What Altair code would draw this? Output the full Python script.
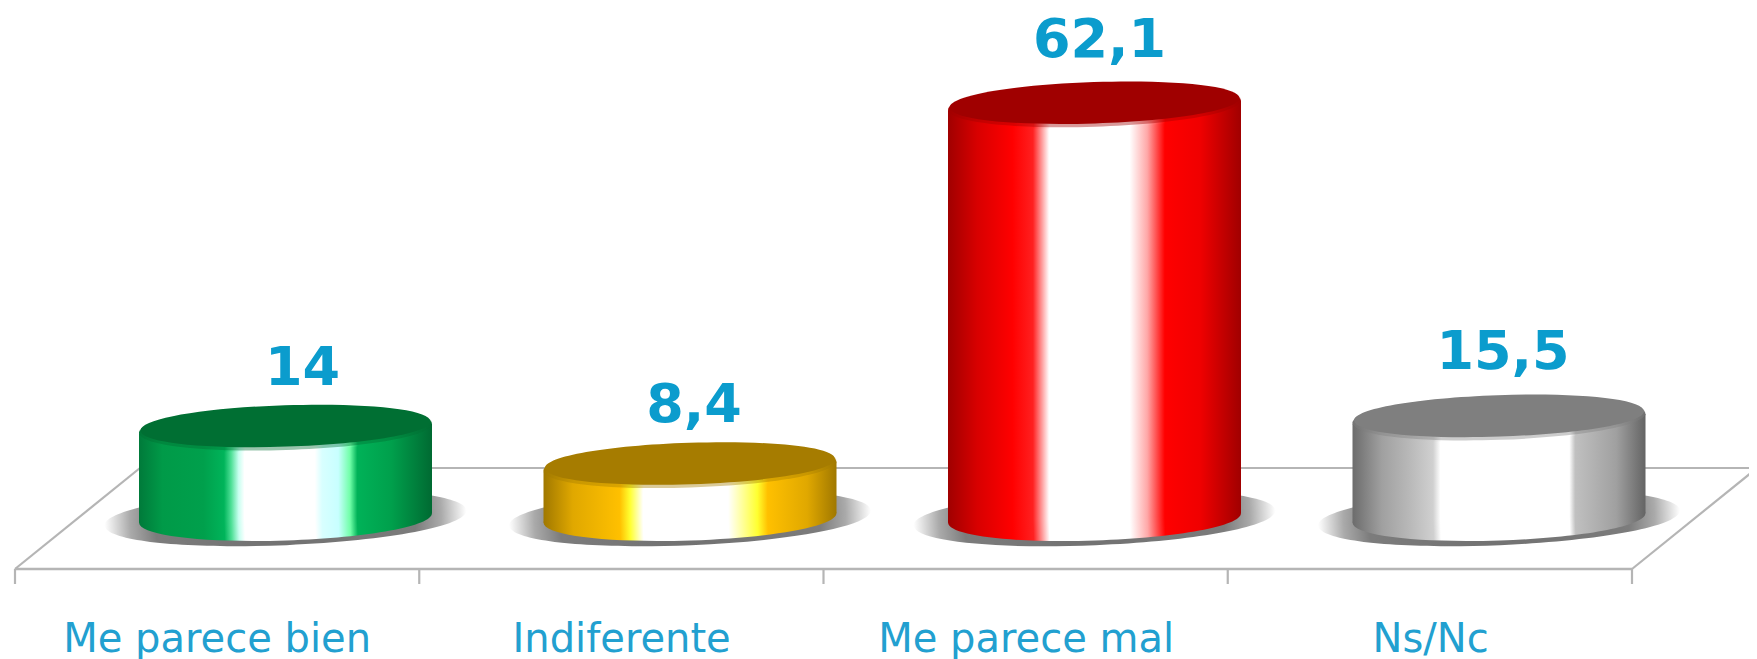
import altair as alt
import pandas as pd
import math

categories = ["Me parece bien", "Indiferente", "Me parece mal", "Ns/Nc"]
values = [14, 8.4, 62.1, 15.5]
value_labels = ["14", "8,4", "62,1", "15,5"]
positions = [0, 1, 2, 3]
label_shift_x = [17, 4, 5, 4]
label_shift_y = [-44, -45, -49, -50]
top_colors = ["#006f33", "#a67c00", "#a00000", "#7f7f7f"]
side_stops = [
    [(0, "#007a3a"), (.08, "#009a48"), (.22, "#00a04c"), (.29, "#00b45a"), (.315, "#50e098"), (.34, "#c8fff0"), (.36, "#ffffff"),
     (.6, "#ffffff"), (.625, "#d8ffff"), (.68, "#c8ffff"), (.72, "#70ffa8"), (.745, "#00b258"), (.86, "#00a04c"), (1, "#006a32")],
    [(0, "#a07800"), (.1, "#e0a800"), (.26, "#ffc000"), (.295, "#ffff30"), (.34, "#ffffff"),
     (.63, "#ffffff"), (.73, "#ffff30"), (.765, "#ffc000"), (.9, "#e0a800"), (1, "#a07800")],
    [(0, "#a00000"), (.1, "#d80000"), (.22, "#ff0000"), (.29, "#ff2020"), (.345, "#ffffff"),
     (.62, "#ffffff"), (.68, "#ffa8a8"), (.74, "#ff0000"), (.86, "#f00000"), (1, "#a00000")],
    [(0, "#6c6c6c"), (.1, "#a0a0a0"), (.2, "#bababa"), (.275, "#d0d0d0"), (.3, "#ffffff"),
     (.74, "#ffffff"), (.76, "#c0c0c0"), (.9, "#a0a0a0"), (1, "#646464")],
]
TEXT_BLUE = "#0b9ccd"
LABEL_BLUE = "#22a0d0"
FLOOR = "#b5b5b5"

# scale: one category step is 404.5 px, one value unit is 6.72 px
STEP, UNIT = 404.5, 6.72
W, H = 1741, 651
X0, Y0 = 277.5, 515       # plot position of category 0 / value 0
BASE = 5 / UNIT           # the cylinders stand slightly above the value origin
xdom = [-X0 / STEP, (W - X0) / STEP]
ydom = [(Y0 - H) / UNIT, Y0 / UNIT]
xs = alt.Scale(domain=xdom, range=[0, W], nice=False, zero=False)
ys = alt.Scale(domain=ydom, range=[H, 0], nice=False, zero=False)
X = alt.X("u:Q", scale=xs, axis=None)
Y = alt.Y("v:Q", scale=ys, axis=None)

HALF = 146.5 / STEP
TILT_DEG = 1.9
LEAN = 146.5 * math.sin(math.radians(TILT_DEG)) / UNIT


def oval(r, k=0.57):
    a, b = k, k * r
    return (f"M-1,0 C-1,{-b} {-a},{-r} 0,{-r} C{a},{-r} 1,{-b} 1,0 "
            f"C1,{b} {a},{r} 0,{r} C{-a},{r} -1,{b} -1,0 Z")


ELLIPSE = oval(22.5 / 146.5)
MID_DISC = oval(22 / 146.5)
DARK_DISC = oval(20.7 / 145)
SIZE = 293 ** 2
ANGLE = 360 - TILT_DEG


def grad(stops):
    return alt.Gradient(gradient="linear", x1=0, x2=1, y1=0, y2=0,
                        stops=[alt.GradientStop(offset=o, color=c) for o, c in stops])


def rule(a, b, c, d, w=2.2):
    df = pd.DataFrame({"u": [a], "u2": [c], "v": [b], "v2": [d]})
    return alt.Chart(df).mark_rule(color=FLOOR, strokeWidth=w).encode(
        x=X, x2="u2:Q", y=Y, y2="v2:Q")


layers = []
# floor
F_L = (15 - 8 - X0) / STEP
F_STEP = 404.25 / STEP
DX = 125 / STEP
FRONT, BACK, TICK = (Y0 + 8 - 569) / UNIT, (Y0 + 8 - 468) / UNIT, (Y0 + 8 - 584) / UNIT
F_R = F_L + 4 * F_STEP
layers.append(rule(F_L + DX, BACK, F_R + DX, BACK))
layers.append(rule(F_L, FRONT, F_L + DX, BACK))
layers.append(rule(F_R, FRONT, F_R + DX, BACK))
layers.append(rule(F_L, FRONT, F_R, FRONT, 2.6))
for k in range(5):
    layers.append(rule(F_L + k * F_STEP, FRONT, F_L + k * F_STEP, TICK))

# shadows
shadow_df = pd.DataFrame({"u": positions, "v": [BASE] * 4})
shadow_grad = alt.Gradient(gradient="radial", x1=.5, y1=.5, x2=.5, y2=.5, r1=0, r2=.5, stops=[
    alt.GradientStop(offset=0, color="#707070"), alt.GradientStop(offset=.72, color="#7c7c7c"),
    alt.GradientStop(offset=.86, color="#aaaaaa"), alt.GradientStop(offset=1, color="#ffffff")])
layers.append(alt.Chart(shadow_df).mark_point(
    filled=True, shape=oval(0.15), size=362 ** 2, fill=shadow_grad,
    opacity=1, strokeWidth=0, angle=357.6, yOffset=0).encode(x=X, y=Y))

# cylinders
for i, cat in enumerate(categories):
    g = grad(side_stops[i])
    p, val = positions[i], values[i]
    base = pd.DataFrame({"u": [p], "v": [BASE]})
    top = pd.DataFrame({"u": [p], "v": [val]})
    body = pd.DataFrame({
        "u": [p - HALF, p + HALF],
        "v": [val - LEAN, val + LEAN],
        "v2": [BASE - LEAN, BASE + LEAN],
    })
    ell = dict(filled=True, shape=ELLIPSE, size=SIZE, opacity=1, strokeWidth=0, angle=ANGLE)
    layers.append(alt.Chart(base).mark_point(fill=g, **ell).encode(x=X, y=Y))
    layers.append(alt.Chart(body).mark_area(fill=g, opacity=1, strokeWidth=0).encode(x=X, y=Y, y2="v2:Q"))
    layers.append(alt.Chart(top).mark_point(fill=g, **ell).encode(x=X, y=Y))
    layers.append(alt.Chart(top).mark_point(
        filled=True, shape=MID_DISC, size=SIZE, opacity=.4, strokeWidth=0, angle=ANGLE,
        fill=top_colors[i], yOffset=-1).encode(x=X, y=Y))
    layers.append(alt.Chart(top).mark_point(
        filled=True, shape=DARK_DISC, size=290 ** 2, opacity=1, strokeWidth=0, angle=ANGLE,
        fill=top_colors[i], yOffset=-3).encode(x=X, y=Y))

# texts
val_df = pd.DataFrame({
    "u": [p + s / STEP for p, s in zip(positions, label_shift_x)],
    "v": [v - s / UNIT for v, s in zip(values, label_shift_y)],
    "t": value_labels})
layers.append(alt.Chart(val_df).mark_text(
    font="DejaVu Sans", fontWeight="bold", fontSize=54, color=TEXT_BLUE,
    baseline="alphabetic", align="center").encode(x=X, y=Y, text="t:N"))

cat_df = pd.DataFrame({"u": [p + (F_L + F_STEP / 2) for p in positions], "v": [(Y0 + 8 - 652) / UNIT] * 4, "t": categories})
layers.append(alt.Chart(cat_df).mark_text(
    font="DejaVu Sans", fontSize=40, color=LABEL_BLUE, baseline="alphabetic", align="center").encode(
    x=X, y=Y, text="t:N"))

chart = alt.layer(*layers).properties(
    width=W, height=H, padding=0, autosize=alt.AutoSizeParams(type="none"), background="white"
).configure_view(stroke=None)

chart.save("out.html", embed_options={"renderer": "svg", "actions": False})
